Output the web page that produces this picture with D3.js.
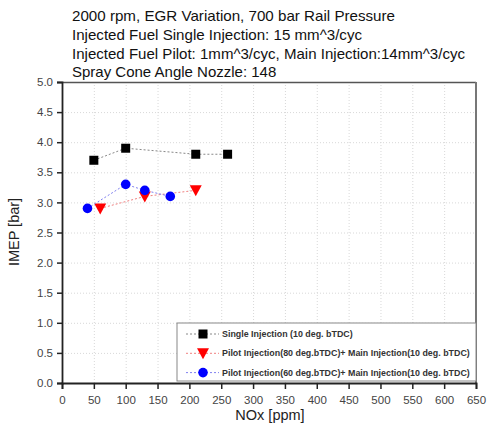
<!DOCTYPE html>
<html><head><meta charset="utf-8">
<script src="https://cdn.jsdelivr.net/npm/d3@7"></script>
<style>body{margin:0;background:#fff;}svg{display:block;font-family:Arial,"Liberation Sans",sans-serif;}</style>
</head><body>
<script>
const titleLines = [
  "2000 rpm, EGR Variation, 700 bar Rail Pressure",
  "Injected Fuel Single Injection: 15 mm^3/cyc",
  "Injected Fuel Pilot: 1mm^3/cyc, Main Injection:14mm^3/cyc",
  "Spray Cone Angle Nozzle: 148"
];
const xTicks = [0,50,100,150,200,250,300,350,400,450,500,550,600,650];
const yTicks = [0.0,0.5,1.0,1.5,2.0,2.5,3.0,3.5,4.0,4.5,5.0];
const singleX = [50,100,210,260];
const singleY = [3.7,3.9,3.8,3.8];
const pilot80X = [60,130,210];
const pilot80Y = [2.9,3.1,3.2];
const pilot60X = [40,100,130,170];
const pilot60Y = [2.9,3.3,3.2,3.1];
const seriesNames = [
  "Single Injection (10 deg. bTDC)",
  "Pilot Injection(80 deg.bTDC)+ Main Injection(10 deg. bTDC)",
  "Pilot Injection(60 deg.bTDC)+ Main Injection(10 deg. bTDC)"
];
const seriesColors = ["#000000","#ff0000","#0000ff"];
const lineColors = ["#888888","#f08080","#8080f0"];

const W=487,H=423;
const m={l:62,t:82,r:476,b:383};
const svg=d3.select("body").append("svg").attr("width",W).attr("height",H);
const x=d3.scaleLinear().domain([0,650]).range([m.l,m.r]);
const y=d3.scaleLinear().domain([0,5]).range([m.b,m.t]);

// title
svg.append("g").selectAll("text").data(titleLines).join("text")
  .attr("x",72).attr("y",(d,i)=>21+i*18.8).attr("font-size",15).attr("fill","#111")
  .attr("textLength",(d,i)=>[323,290,393,null][i]).attr("lengthAdjust","spacingAndGlyphs")
  .text(d=>d);
svg.selectAll("text").filter(function(){return this.getAttribute("textLength")===null||this.getAttribute("textLength")==="";}).attr("textLength",null);

// grid
const grid=svg.append("g").attr("stroke","#d8d8d8").attr("stroke-width",1).attr("stroke-dasharray","1,2");
grid.selectAll(".gx").data(xTicks.slice(1,-1)).join("line")
  .attr("x1",d=>x(d)+0.5).attr("x2",d=>x(d)+0.5).attr("y1",m.t).attr("y2",m.b);
grid.selectAll(".gy").data(yTicks.slice(1,-1)).join("line")
  .attr("y1",d=>y(d)+0.5).attr("y2",d=>y(d)+0.5).attr("x1",m.l).attr("x2",m.r);

// frame top/right
svg.append("line").attr("x1",m.l).attr("x2",m.r).attr("y1",m.t+0.5).attr("y2",m.t+0.5).attr("stroke","#555").attr("stroke-width",1.5);
svg.append("line").attr("x1",m.r).attr("x2",m.r).attr("y1",m.t).attr("y2",m.b).attr("stroke","#777").attr("stroke-width",2);

// axes
const xa=svg.append("g").attr("transform",`translate(0,${m.b})`)
  .call(d3.axisBottom(x).tickValues(xTicks).tickSize(6).tickPadding(4).tickFormat(d3.format("d")));
const ya=svg.append("g").attr("transform",`translate(${m.l},0)`)
  .call(d3.axisLeft(y).tickValues(yTicks).tickSize(5).tickPadding(4).tickFormat(d3.format(".1f")));
[xa,ya].forEach(a=>{
  a.select(".domain").attr("stroke","#222").attr("stroke-width",1.8);
  a.selectAll(".tick line").attr("stroke","#222").attr("stroke-width",1.5);
  a.selectAll(".tick text").attr("font-size",11.5).attr("fill","#444").attr("font-family","Arial,'Liberation Sans',sans-serif");
});
xa.selectAll(".tick text").attr("y",21).attr("dy",0);

// axis labels
svg.append("text").attr("x",270).attr("y",420).attr("text-anchor","middle").attr("font-size",14.5).attr("fill","#222").text("NOx [ppm]");
svg.append("text").attr("transform","translate(19,232) rotate(-90)").attr("text-anchor","middle").attr("font-size",14.5).attr("fill","#222").text("IMEP [bar]");

const series=[
  {xs:singleX,ys:singleY},
  {xs:pilot80X,ys:pilot80Y},
  {xs:pilot60X,ys:pilot60Y}
];
function marker(g,i,cx,cy){
  const c=seriesColors[i];
  if(i===0) g.append("rect").attr("x",cx-4.5).attr("y",cy-4.5).attr("width",9).attr("height",9).attr("fill",c);
  else if(i===1) g.append("path").attr("d",`M${cx-6},${cy-5}L${cx+6},${cy-5}L${cx},${cy+6}Z`).attr("fill",c);
  else g.append("circle").attr("cx",cx).attr("cy",cy).attr("r",4.8).attr("fill",c);
}
series.forEach((s,i)=>{
  const pts=s.xs.map((v,j)=>[v,s.ys[j]]);
  svg.append("path").attr("d",d3.line().x(d=>x(d[0])).y(d=>y(d[1]))(pts))
    .attr("fill","none").attr("stroke",lineColors[i]).attr("stroke-width",1).attr("stroke-dasharray","2,2");
  const g=svg.append("g");
  pts.forEach(p=>marker(g,i,x(p[0]),y(p[1])));
});

// legend
const lg=svg.append("g");
lg.append("rect").attr("x",177).attr("y",323).attr("width",299).attr("height",58).attr("fill","#fff").attr("stroke","#888").attr("stroke-width",1);
seriesNames.forEach((n,i)=>{
  const yy=334+i*19.3;
  lg.append("line").attr("x1",186).attr("x2",219).attr("y1",yy).attr("y2",yy).attr("stroke",lineColors[i]).attr("stroke-dasharray","2,2");
  marker(lg,i,203,yy);
  lg.append("text").attr("x",222).attr("y",yy+3).attr("font-size",8.9).attr("font-weight","bold").attr("fill","#333").text(n);
});
</script>
</body></html>
